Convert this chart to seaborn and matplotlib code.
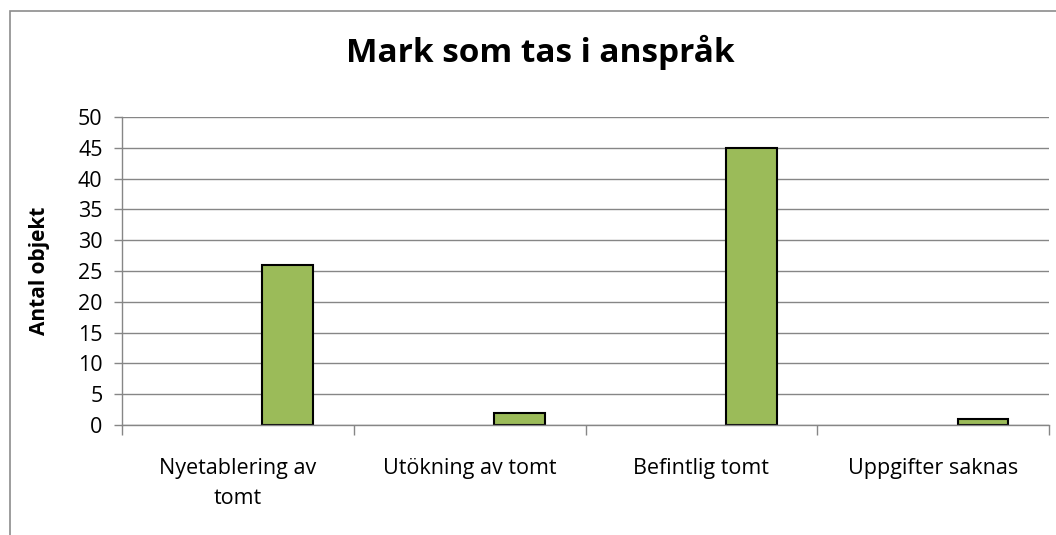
import numpy as np
import pandas as pd
import matplotlib.pyplot as plt
import matplotlib.patches as mpatches
import seaborn as sns

kategorier = ["Nyetablering av\ntomt", "Utökning av tomt", "Befintlig tomt", "Uppgifter saknas"]
serie1 = [np.nan, np.nan, np.nan, np.nan]   # tom serie i originalet
serie2 = [26, 2, 45, 1]
y_ticks = [0, 5, 10, 15, 20, 25, 30, 35, 40, 45, 50]

df = pd.DataFrame({
    "Kategori": kategorier * 2,
    "Serie": ["Serie1"] * 4 + ["Serie2"] * 4,
    "Antal": serie1 + serie2,
})

sns.set_style("white")
plt.rcParams['font.family'] = ['Open Sans', 'DejaVu Sans']
plt.rcParams['text.color'] = 'black'
plt.rcParams['axes.labelcolor'] = 'black'
plt.rcParams['xtick.labelcolor'] = 'black'
plt.rcParams['ytick.labelcolor'] = 'black'

fig = plt.figure(figsize=(10.56, 5.35), dpi=100)
ax = fig.add_axes([122 / 1056, 1 - 425 / 535, (1049 - 122) / 1056, (425 - 117) / 535])

sns.barplot(data=df, x="Kategori", y="Antal", hue="Serie", order=kategorier,
            hue_order=["Serie1", "Serie2"], palette=["#4F81BD", "#9BBB59"],
            width=0.86, gap=0.49, edgecolor="black", linewidth=1.5,
            legend=False, ax=ax, saturation=1)

ax.set_xlim(-0.5, len(kategorier) - 0.5)
ax.set_ylim(0, 50)
ax.set_yticks(y_ticks)
ax.yaxis.grid(True, color="#868686", linewidth=1)
ax.set_axisbelow(True)

for s in ["top", "right"]:
    ax.spines[s].set_visible(False)
for s in ["left", "bottom"]:
    ax.spines[s].set_color("#868686")
    ax.spines[s].set_linewidth(1)

ax.tick_params(axis="y", length=6, width=1, color="#868686", labelsize=15.5, pad=8, left=True)
ax.tick_params(axis="x", which="major", length=0, labelsize=15.5, pad=24)
ax.set_xticks(np.arange(-0.5, len(kategorier)), minor=True)
ax.tick_params(axis="x", which="minor", length=7, width=1, color="#868686", bottom=True)
for lbl in ax.get_xticklabels():
    lbl.set_linespacing(1.55)

ax.set_xlabel("")
ax.set_ylabel("Antal objekt", fontsize=15, fontweight="bold", labelpad=20)

fig.text(540 / 1056, 1 - 52 / 535, "Mark som tas i anspråk", ha="center", va="center",
         fontsize=24, fontweight="bold")

ram = mpatches.Rectangle((10 / 1056, -0.1), 1.2, 1 - 11 / 535 + 0.1, transform=fig.transFigure,
                         fill=False, edgecolor="#8c8c8c", linewidth=1.2)
fig.patches.append(ram)

fig.savefig("out.png", dpi=100)
